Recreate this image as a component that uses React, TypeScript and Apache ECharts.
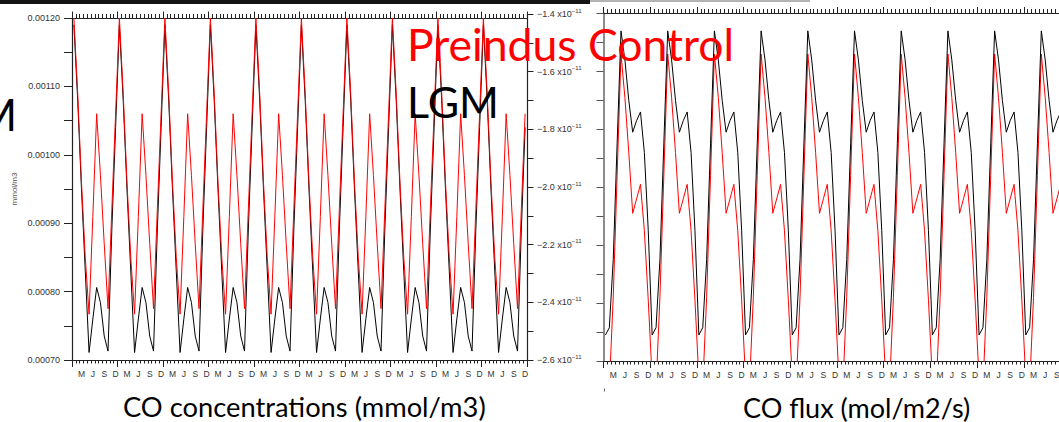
import React, { useEffect, useRef } from "react";
import * as echarts from "echarts";

// Month letters for one year; the run covers ten years of monthly means
const MONTH_LETTERS = ["J", "F", "M", "A", "M", "J", "J", "A", "S", "O", "N", "D"];
const YEAR_COUNT = 10;

// CO concentration (mmol/m3), one annual cycle (Jan..Dec), repeated each year in the plot
const LGM_CONC = [0.00119, 0.00108, 0.00095, 0.00083, 0.000711, 0.00076, 0.000806, 0.000784, 0.000735, 0.000713, 0.00089, 0.00104];
const PI_CONC = [0.0012, 0.00109, 0.00096, 0.00085, 0.000767, 0.00091, 0.00106, 0.00097, 0.00087, 0.000775, 0.00092, 0.00106];

// CO flux (x10^-11 mol/m2/s), one annual cycle (Jan..Dec)
const LGM_FLUX = [-2.51, -2.485, -2.25, -1.85, -1.46, -1.56, -1.7, -1.81, -1.77, -1.74, -1.88, -2.15];
const PI_FLUX = [-2.66, -2.69, -2.38, -1.96, -1.54, -1.69, -1.88, -2.09, -2.04, -1.99, -2.15, -2.39];

const CONC_MIN = 0.0007;
const CONC_MAX = 0.0012;
const CONC_STEP = 0.0001;
const FLUX_MIN = -2.6;
const FLUX_MAX = -1.4;
const FLUX_STEP = 0.2;

function repeatYears(arr: number[]): number[] {
  const out: number[] = [];
  for (let y = 0; y < YEAR_COUNT; y++) out.push(...arr);
  return out;
}

const TICK_FONT = "Liberation Sans";
const AXIS_COLOR = "#222";

function monthAxisValue(gridIndex: number, position: "top" | "bottom", major: number, minor: number) {
  return {
    type: "value",
    gridIndex,
    position,
    min: 0,
    max: YEAR_COUNT * 12,
    interval: 12,
    axisLine: { show: true, onZero: false, lineStyle: { color: AXIS_COLOR, width: 1 } },
    axisTick: { show: true, inside: false, length: major, lineStyle: { color: AXIS_COLOR, width: 1 } },
    minorTick: { show: true, splitNumber: 12, length: minor, lineStyle: { color: AXIS_COLOR, width: 1 } },
    axisLabel: { show: false },
    splitLine: { show: false },
    minorSplitLine: { show: false },
  };
}

function monthAxisLabels(gridIndex: number, categories: string[]) {
  return {
    type: "category",
    gridIndex,
    position: "bottom",
    data: categories,
    boundaryGap: true,
    axisLine: { show: false },
    axisTick: { show: false },
    splitLine: { show: false },
    axisLabel: {
      interval: (i: number) => i % 3 === 2,
      margin: 9,
      fontSize: 8.5,
      color: "#333",
      fontFamily: TICK_FONT,
    },
  };
}

export default function App() {
  const ref = useRef<HTMLDivElement>(null);

  useEffect(() => {
    if (!ref.current) return;
    const chart = echarts.init(ref.current, undefined, { renderer: "svg" });
    const categories: string[] = [];
    for (let y = 0; y < YEAR_COUNT; y++) categories.push(...MONTH_LETTERS);

    const leftGrid = { left: 72, top: 18, width: 455, height: 342 };
    const rightGrid = { left: 603.5, top: 13.5, width: 467, height: 347.5 };

    const fluxLabel = (v: number) =>
      `{a|\u2212${Math.abs(v).toFixed(1)} x10}{b|\u221211}`;

    const option: any = {
      animation: false,
      backgroundColor: "#ffffff",
      grid: [
        { ...leftGrid },
        { ...leftGrid },
        { ...rightGrid },
        { ...rightGrid },
        { left: 526, top: 14, width: 1, height: 346 },
      ],
      xAxis: [
        monthAxisValue(0, "bottom", 7, 3.5),
        monthAxisValue(0, "top", 6.5, 4),
        monthAxisLabels(1, categories),
        monthAxisValue(2, "bottom", 7, 3.5),
        monthAxisValue(2, "top", 6.5, 4.5),
        monthAxisLabels(3, categories),
        { type: "value", gridIndex: 4, show: false, min: 0, max: 1 },
      ],
      yAxis: [
        {
          type: "value",
          gridIndex: 0,
          position: "left",
          min: CONC_MIN,
          max: CONC_MAX,
          interval: CONC_STEP,
          name: "mmol/m3",
          nameLocation: "middle",
          nameRotate: 90,
          nameGap: 54,
          nameTextStyle: { fontSize: 8, color: "#555", fontFamily: TICK_FONT },
          axisLine: { show: true, onZero: false, lineStyle: { color: AXIS_COLOR, width: 1.2 } },
          axisTick: { show: true, inside: false, length: 8, lineStyle: { color: AXIS_COLOR } },
          minorTick: { show: true, splitNumber: 2, length: 8, lineStyle: { color: AXIS_COLOR } },
          axisLabel: {
            margin: 12,
            fontSize: 9,
            color: "#333",
            fontFamily: TICK_FONT,
            formatter: (v: number) => v.toFixed(5),
          },
          splitLine: { show: false },
          minorSplitLine: { show: false },
        },
        { type: "value", gridIndex: 1, show: false, min: CONC_MIN, max: CONC_MAX },
        {
          type: "value",
          gridIndex: 2,
          position: "left",
          min: FLUX_MIN,
          max: FLUX_MAX,
          interval: FLUX_STEP,
          axisLine: { show: true, onZero: false, lineStyle: { color: "#8c8c8c", width: 2 } },
          axisTick: { show: true, inside: false, length: 7, lineStyle: { color: "#555" } },
          minorTick: { show: true, splitNumber: 2, length: 7, lineStyle: { color: "#555" } },
          axisLabel: { show: false },
          splitLine: { show: false },
          minorSplitLine: { show: false },
        },
        { type: "value", gridIndex: 3, show: false, min: FLUX_MIN, max: FLUX_MAX },
        {
          type: "value",
          gridIndex: 4,
          position: "right",
          min: FLUX_MIN,
          max: FLUX_MAX,
          interval: FLUX_STEP,
          axisLine: { show: true, onZero: false, lineStyle: { color: AXIS_COLOR, width: 1.2 } },
          axisTick: { show: true, inside: false, length: 6.5, lineStyle: { color: AXIS_COLOR } },
          minorTick: { show: true, splitNumber: 2, length: 6.5, lineStyle: { color: AXIS_COLOR } },
          axisLabel: {
            margin: 10,
            formatter: fluxLabel,
            rich: {
              a: { fontSize: 9, color: "#333", fontFamily: TICK_FONT },
              b: { fontSize: 6, color: "#333", fontFamily: TICK_FONT, padding: [0, 0, 7, 0] },
            },
          },
          splitLine: { show: false },
          minorSplitLine: { show: false },
        },
      ],
      series: [
        {
          name: "LGM concentration",
          type: "line",
          xAxisIndex: 2,
          yAxisIndex: 1,
          data: repeatYears(LGM_CONC),
          showSymbol: false,
          symbol: "none",
          lineStyle: { color: "#000000", width: 1 },
        },
        {
          name: "Preindus Control concentration",
          type: "line",
          xAxisIndex: 2,
          yAxisIndex: 1,
          data: repeatYears(PI_CONC),
          showSymbol: false,
          symbol: "none",
          lineStyle: { color: "#ff0000", width: 1 },
        },
        {
          name: "Preindus Control flux",
          type: "line",
          xAxisIndex: 5,
          yAxisIndex: 3,
          data: repeatYears(PI_FLUX),
          showSymbol: false,
          symbol: "none",
          lineStyle: { color: "#ff0000", width: 1 },
        },
        {
          name: "LGM flux",
          type: "line",
          xAxisIndex: 5,
          yAxisIndex: 3,
          data: repeatYears(LGM_FLUX),
          showSymbol: false,
          symbol: "none",
          lineStyle: { color: "#000000", width: 1 },
        },
      ],
      graphic: [
        { type: "rect", z: 50, shape: { x: 0, y: 0, width: 590, height: 4 }, style: { fill: "#141414" } },
        { type: "line", z: 50, shape: { x1: 590, y1: 1, x2: 810, y2: 1 }, style: { stroke: "#9a9a9a", lineWidth: 1.5 } },
        { type: "line", z: 50, shape: { x1: 604.5, y1: 388.5, x2: 604.5, y2: 391.5 }, style: { stroke: "#666", lineWidth: 1 } },
        {
          type: "text", z: 100, x: 17, y: 114,
          style: { text: "M", fill: "#000", font: "44px Lato", align: "right", verticalAlign: "middle" },
        },
        {
          type: "text", z: 100, x: 407, y: 43,
          style: { text: "Preindus Control", fill: "#ff0000", font: "44.5px Lato", align: "left", verticalAlign: "middle" },
        },
        {
          type: "text", z: 100, x: 407, y: 101,
          style: { text: "LGM", fill: "#000", font: "43px Lato", align: "left", verticalAlign: "middle" },
        },
        {
          type: "text", z: 100, x: 123, y: 406.5,
          style: { text: "CO concentrations (mmol/m3)", fill: "#000", font: "27.3px Lato", lineHeight: 26, align: "left", verticalAlign: "middle" },
        },
        {
          type: "text", z: 100, x: 743, y: 407.5,
          style: { text: "CO flux (mol/m2/s)", fill: "#000", font: "27px Lato", lineHeight: 26, align: "left", verticalAlign: "middle" },
        },
      ],
    };

    chart.setOption(option);
    return () => chart.dispose();
  }, []);

  return (
    <div style={{ position: "absolute", left: 0, top: 0, width: 1059, height: 422, overflow: "hidden", background: "#fff" }}>
      <div ref={ref} style={{ position: "absolute", left: 0, top: 0, width: 1085, height: 422 }} />
    </div>
  );
}
